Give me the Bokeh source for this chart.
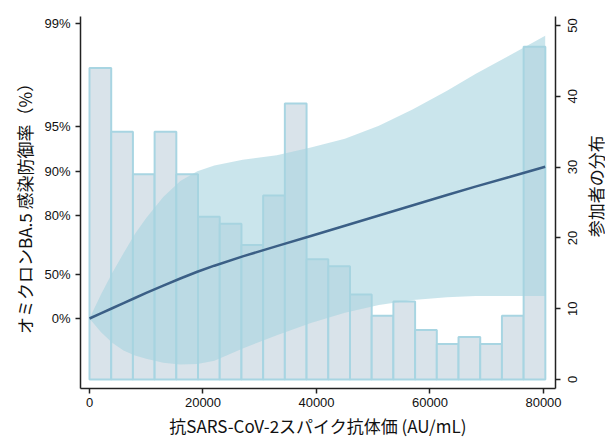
import math
from bokeh.plotting import figure
from bokeh.layouts import row
from bokeh.models import Range1d, LinearAxis, FixedTicker, CustomJSTickFormatter
from bokeh.core.properties import value
from bokeh.embed import file_html
from bokeh.resources import INLINE

# ---- data ----
counts = [44, 35, 29, 35, 29, 23, 22, 19, 26, 39, 17, 16, 12, 9, 11, 7, 5, 6, 5, 9, 47]
bin_width = 3825  # AU/mL per histogram bin

titer = [0, 2000, 4000, 6000, 8000, 10000, 13000, 16000, 19000, 22000,
         27000, 33000, 39000, 45000, 51000, 57000, 63000, 68000, 74000, 80300]
# fitted protection on the -ln(1 - VE) scale
fit = [0.0, 0.08, 0.16, 0.24, 0.32, 0.40, 0.515, 0.625, 0.73, 0.825,
       0.97, 1.13, 1.29, 1.45, 1.61, 1.77, 1.93, 2.06, 2.21, 2.37]
lower = [0.0, -0.21, -0.38, -0.50, -0.58, -0.63, -0.69, -0.72, -0.71, -0.66,
         -0.47, -0.26, -0.07, 0.09, 0.21, 0.29, 0.33, 0.35, 0.35, 0.35]
upper = [0.0, 0.37, 0.71, 1.02, 1.32, 1.57, 1.90, 2.15, 2.30, 2.39,
         2.48, 2.55, 2.67, 2.81, 3.01, 3.27, 3.56, 3.82, 4.11, 4.42]

ve_pct = [0, 50, 80, 90, 95, 99]
ve_labels = ["0%", "50%", "80%", "90%", "95%", "99%"]
x_ticks = [0, 20000, 40000, 60000, 80000]
count_ticks = [0, 10, 20, 30, 40, 50]

x_label = "抗SARS-CoV-2スパイク抗体価 (AU/mL)"
y_label = "オミクロンBA.5  感染防御率（%）"
y2_label = "参加者の分布"

# ---- layout constants ----
TICK_FONT = "Liberation Sans"
LABEL_FONT = "Noto Sans CJK JP"
TICK_PX = 13
FRAME_W = 475
FRAME_H = 372
BORDER_L, BORDER_R, BORDER_T = 80, 29, 16
TOTAL_W, TOTAL_H = 605, 439
COUNT_RANGE = (-1.27, 51.27)

fig = figure(frame_width=FRAME_W, frame_height=FRAME_H, output_backend="svg",
             toolbar_location=None,
             x_range=Range1d(-1586, 82115), y_range=Range1d(-1.094, 4.719),
             min_border_left=BORDER_L, min_border_right=BORDER_R,
             min_border_top=BORDER_T, min_border_bottom=40)
fig.outline_line_color = None
fig.grid.visible = False
fig.background_fill_color = "white"

fig.extra_y_ranges = {"count": Range1d(*COUNT_RANGE)}

# histogram
lefts = [i * bin_width for i in range(len(counts))]
rights = [(i + 1) * bin_width for i in range(len(counts))]
fig.quad(left=lefts, right=rights, bottom=0, top=counts, y_range_name="count",
         fill_color="#d9e3ea", line_color="#a8d5e2", line_width=2)

# confidence band and fitted line
fig.varea(x=titer, y1=lower, y2=upper, fill_color="#a6d3e0", fill_alpha=0.6)
fig.line(x=titer, y=fit, line_color="#3b5f86", line_width=2.5)

# axes styling helper
def style_axis(ax):
    ax.axis_line_color = "#222222"
    ax.axis_line_width = 1.5
    ax.major_tick_line_color = "#222222"
    ax.major_tick_line_width = 1.5
    ax.major_tick_out = 5
    ax.major_tick_in = 0
    ax.minor_tick_line_color = None
    ax.major_label_text_font = TICK_FONT
    ax.major_label_text_font_size = f"{TICK_PX}px"
    ax.major_label_text_color = "#111111"
    ax.axis_label_text_font = LABEL_FONT
    ax.axis_label_text_font_size = "17px"
    ax.axis_label_text_font_style = "normal"
    ax.axis_label_text_color = "#111111"

# x axis
xa = fig.xaxis[0]
style_axis(xa)
xa.ticker = FixedTicker(ticks=x_ticks)
xa.axis_label = x_label
xa.axis_label_standoff = 3
xa.major_label_standoff = 4

# left axis (-ln(1-VE) scale)
ya = fig.yaxis[0]
style_axis(ya)
ya.ticker = FixedTicker(ticks=[-math.log(1 - v / 100) for v in ve_pct])
ya.formatter = CustomJSTickFormatter(args=dict(labels=ve_labels),
                                     code="return labels[index];")
ya.axis_label = y_label
ya.axis_label_standoff = 4
ya.major_label_standoff = 5

# right axis (participant counts): line + ticks
ra = LinearAxis(y_range_name="count", ticker=FixedTicker(ticks=count_ticks),
                formatter=CustomJSTickFormatter(code="return '';"))
style_axis(ra)
ra.major_label_standoff = 0
fig.add_layout(ra, "right")

# right axis tick labels, rotated to read bottom-to-top and centred on ticks
px_per_count = FRAME_H / (COUNT_RANGE[1] - COUNT_RANGE[0])
count_labels = [str(c) for c in count_ticks]
label_pos = [c - 0.556 * TICK_PX * len(s) / 2 / px_per_count
             for c, s in zip(count_ticks, count_labels)]
rl = LinearAxis(y_range_name="count", ticker=FixedTicker(ticks=label_pos),
                formatter=CustomJSTickFormatter(args=dict(labels=count_labels),
                                                code="return labels[index];"))
style_axis(rl)
rl.axis_line_color = None
rl.major_tick_line_color = None
rl.major_tick_out = 0
rl.major_label_orientation = math.pi / 2
rl.major_label_standoff = 12
fig.add_layout(rl, "right")

# right axis title (reads bottom-to-top) in a narrow companion panel
fig_w = BORDER_L + FRAME_W + BORDER_R
lab_w = TOTAL_W - fig_w
lab = figure(width=lab_w, height=TOTAL_H, output_backend="svg",
             toolbar_location=None, x_axis_type=None, y_axis_type=None,
             x_range=Range1d(0, lab_w), y_range=Range1d(0, TOTAL_H),
             min_border=0)
lab.outline_line_color = None
lab.grid.visible = False
lab.text(x=[lab_w / 2], y=[TOTAL_H - 201], text=[y2_label], angle=math.pi / 2,
         text_align="center", text_baseline="middle",
         text_font=value(LABEL_FONT), text_font_size=value("17px"),
         text_color="#111111")

p = row(fig, lab)

open("out.html", "w").write(file_html(p, INLINE))
